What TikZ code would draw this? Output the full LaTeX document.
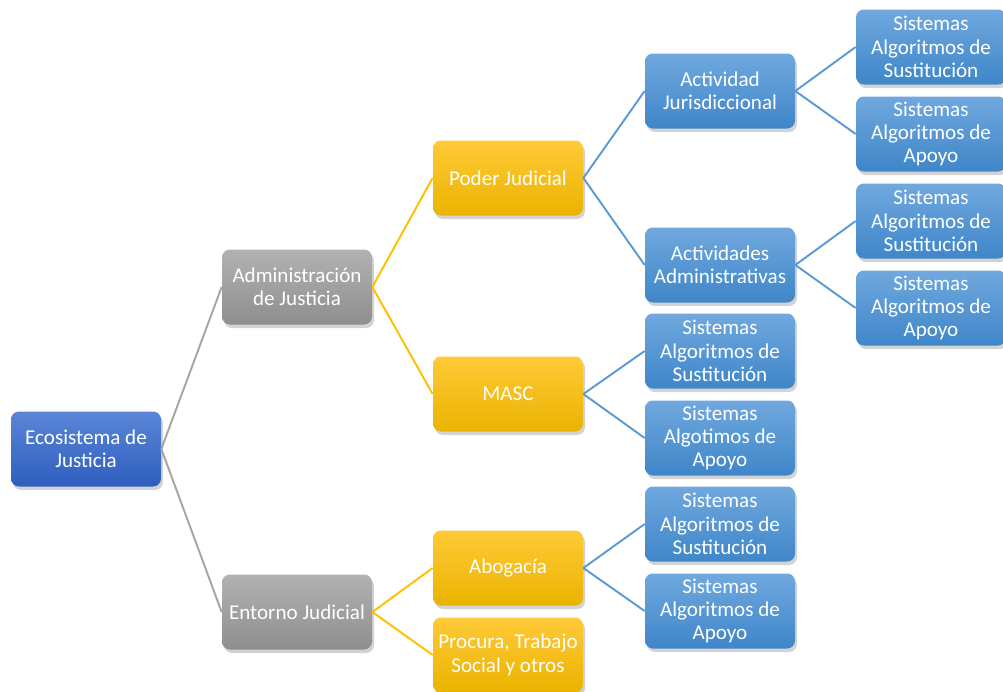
\documentclass[tikz,border=0pt]{standalone}
\usepackage{fontspec}
\setmainfont{Carlito}
\usetikzlibrary{shadows}

\definecolor{RootTop}{HTML}{5A86D8}
\definecolor{RootBot}{HTML}{2E5EBE}
\definecolor{GrayTop}{HTML}{B2B2B2}
\definecolor{GrayBot}{HTML}{8E8E8E}
\definecolor{GoldTop}{HTML}{FFCA38}
\definecolor{GoldBot}{HTML}{EBB300}
\definecolor{BlueTop}{HTML}{70A8DE}
\definecolor{BlueBot}{HTML}{3F86C9}
\definecolor{GrayLine}{HTML}{A5A5A5}
\definecolor{GoldLine}{HTML}{FFC000}
\definecolor{BlueLine}{HTML}{5B9BD5}

\tikzset{
  box/.style={rounded corners=4.5pt, minimum width=3cm, minimum height=1.5cm,
    inner sep=1pt, align=center, text=white,
    font=\fontsize{12}{13.3}\selectfont,
    drop shadow={opacity=0.35, shadow xshift=0.04cm, shadow yshift=-0.07cm}},
  rootbox/.style={box, top color=RootTop, bottom color=RootBot},
  graybox/.style={box, top color=GrayTop, bottom color=GrayBot},
  goldbox/.style={box, top color=GoldTop, bottom color=GoldBot},
  bluebox/.style={box, top color=BlueTop, bottom color=BlueBot},
  link/.style={line width=1.1pt}
}

\begin{document}
\begin{tikzpicture}

\useasboundingbox (0,0) rectangle (20.06,-13.82);

% _____ Columns
\def\ColA{1.72}
\def\ColB{5.94}
\def\ColC{10.16}
\def\ColD{14.40}
\def\ColE{18.62}

% _____ Root and first level
\node[rootbox] (Ecosistema) at (\ColA, -8.98) {Ecosistema de\\Justicia};
\node[graybox] (AdminJusticia) at (\ColB, -5.74) {Administración\\de Justicia};
\node[graybox] (Entorno) at (\ColB, -12.24) {Entorno Judicial};

% _____ Second level
\node[goldbox] (PoderJudicial) at (\ColC, -3.56) {Poder Judicial};
\node[goldbox] (MASC) at (\ColC, -7.88) {MASC};
\node[goldbox] (Abogacia) at (\ColC, -11.36) {Abogacía};
\node[goldbox] (Procura) at (\ColC, -13.1) {Procura, Trabajo\\Social y otros};

% _____ Third level
\node[bluebox] (ActJurisdiccional) at (\ColD, -1.82) {Actividad\\Jurisdiccional};
\node[bluebox] (ActAdministrativas) at (\ColD, -5.30) {Actividades\\Administrativas};
\node[bluebox] (MascSust) at (\ColD, -7.02) {Sistemas\\Algoritmos de\\Sustitución};
\node[bluebox] (MascApoyo) at (\ColD, -8.76) {Sistemas\\Algotimos de\\Apoyo};
\node[bluebox] (AbogSust) at (\ColD, -10.48) {Sistemas\\Algoritmos de\\Sustitución};
\node[bluebox] (AbogApoyo) at (\ColD, -12.22) {Sistemas\\Algoritmos de\\Apoyo};

% _____ Fourth level
\node[bluebox] (JurSust) at (\ColE, -0.94) {Sistemas\\Algoritmos de\\Sustitución};
\node[bluebox] (JurApoyo) at (\ColE, -2.68) {Sistemas\\Algoritmos de\\Apoyo};
\node[bluebox] (AdmSust) at (\ColE, -4.42) {Sistemas\\Algoritmos de\\Sustitución};
\node[bluebox] (AdmApoyo) at (\ColE, -6.16) {Sistemas\\Algoritmos de\\Apoyo};

% _____ Connectors
\draw[link, GrayLine] (Ecosistema.east) -- (AdminJusticia.west);
\draw[link, GrayLine] (Ecosistema.east) -- (Entorno.west);

\draw[link, GoldLine] (AdminJusticia.east) -- (PoderJudicial.west);
\draw[link, GoldLine] (AdminJusticia.east) -- (MASC.west);
\draw[link, GoldLine] (Entorno.east) -- (Abogacia.west);
\draw[link, GoldLine] (Entorno.east) -- (Procura.west);

\draw[link, BlueLine] (PoderJudicial.east) -- (ActJurisdiccional.west);
\draw[link, BlueLine] (PoderJudicial.east) -- (ActAdministrativas.west);
\draw[link, BlueLine] (MASC.east) -- (MascSust.west);
\draw[link, BlueLine] (MASC.east) -- (MascApoyo.west);
\draw[link, BlueLine] (Abogacia.east) -- (AbogSust.west);
\draw[link, BlueLine] (Abogacia.east) -- (AbogApoyo.west);

\draw[link, BlueLine] (ActJurisdiccional.east) -- (JurSust.west);
\draw[link, BlueLine] (ActJurisdiccional.east) -- (JurApoyo.west);
\draw[link, BlueLine] (ActAdministrativas.east) -- (AdmSust.west);
\draw[link, BlueLine] (ActAdministrativas.east) -- (AdmApoyo.west);

\end{tikzpicture}
\end{document}
